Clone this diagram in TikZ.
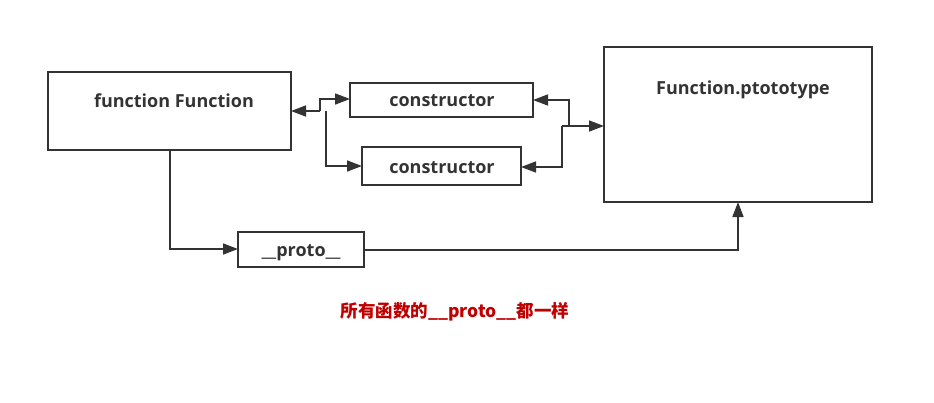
\documentclass[tikz,border=0pt]{standalone}
\usepackage{fontspec}
\setmainfont{Open Sans}
\newfontfamily\cjk{Noto Sans CJK SC}
\usetikzlibrary{arrows.meta}
\definecolor{ln}{HTML}{333333}
\definecolor{rd}{HTML}{C00000}
\begin{document}
\begin{tikzpicture}[x=1pt,y=-1pt,
  box/.style={draw=ln,line width=1.6pt,inner sep=0pt},
  lbl/.style={text=ln,font=\fontsize{18}{20}\selectfont\bfseries,inner sep=0pt,anchor=center},
  conn/.style={draw=ln,line width=1.6pt,-{Triangle[length=15pt,width=11pt]}}]
\useasboundingbox (0,0) rectangle (934,402);
% boxes
\draw[box] (48,72) rectangle (291,150);
\node[lbl] (ff) at (174,101) {function Function};
\coordinate (ffR) at (291,111);
\coordinate (ffB) at (170,150);
\draw[box] (350,83) rectangle (533,117);
\node[lbl] (c1) at (442,101) {constructor};
\draw[box] (362,147) rectangle (521,185);
\node[lbl] (c2) at (442,168) {constructor};
\draw[box] (604,47) rectangle (872,202);
\node[lbl] (fp) at (743,90) {Function.ptototype};
\draw[box] (238,232) rectangle (364,267);
\node[lbl] (pr) at (301,253) {\_\_proto\_\_};
\node[text=rd,font=\cjk\fontsize{17.5}{19}\selectfont\bfseries,inner sep=0pt] (note) at (455,312) {所有函数的\_\_proto\_\_都一样};
% left connectors
\coordinate (j1) at (320,111);
\coordinate (j2) at (326,111);
\draw[conn] (j1) -- (ffR);
\draw[conn] (j1) -- (320,99) -- (350,99);
\draw[conn] (j2) -- (326,166) -- (362,166);
% right connectors
\coordinate (k1) at (562,126);
\draw[conn] (k1) -- (604,126);
\draw[conn] (569,126) -- (569,100) -- (533,100);
\draw[conn] (k1) -- (562,167) -- (521,167);
% proto
\draw[conn] (ffB) -- (170,249) -- (238,249);
\draw[conn] (364,250) -- (738,250) -- (738,202);
\end{tikzpicture}
\end{document}
